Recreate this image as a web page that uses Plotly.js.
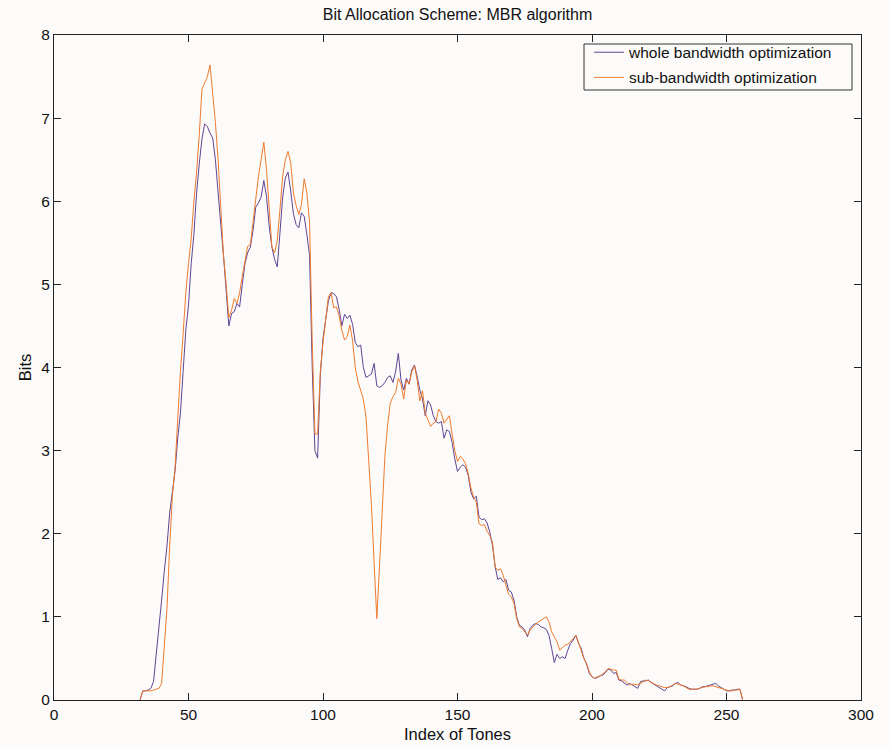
<!DOCTYPE html>
<html>
<head>
<meta charset="utf-8">
<script src="https://cdn.plot.ly/plotly-3.0.1.min.js"></script>
<style>
html,body{margin:0;padding:0;background:#fcfbfa;}
#chart{width:890px;height:748px;}
</style>
</head>
<body>
<div id="chart"></div>
<script>
const startTone = 32;
const wholeBits = [
0,0.11,0.11,0.12,0.14,0.22,0.55,0.85,1.2,1.55,
1.85,2.25,2.5,2.75,3.15,3.45,3.95,4.45,4.75,5.25,
5.6,6.1,6.45,6.75,6.93,6.9,6.82,6.76,6.5,6.15,
5.72,5.35,4.95,4.5,4.65,4.67,4.77,4.73,5.0,5.25,
5.38,5.45,5.65,5.93,5.98,6.05,6.25,6.06,5.7,5.45,
5.3,5.21,5.62,6.05,6.28,6.35,6.12,5.85,5.72,5.68,
5.86,5.82,5.6,5.35,4.0,3.0,2.91,3.9,4.35,4.6,
4.8,4.9,4.89,4.85,4.7,4.5,4.64,4.59,4.63,4.52,
4.3,4.25,4.27,4.0,3.88,3.9,3.92,4.05,3.78,3.76,
3.78,3.82,3.88,3.9,3.82,3.95,4.17,3.85,3.73,3.87,
3.8,3.97,4.03,3.89,3.73,3.62,3.42,3.6,3.55,3.42,
3.35,3.33,3.35,3.15,3.25,3.23,3.1,2.9,2.75,2.8,
2.83,2.8,2.7,2.5,2.42,2.45,2.2,2.17,2.18,2.13,
2.02,1.86,1.6,1.45,1.47,1.42,1.45,1.32,1.3,1.2,
1.0,0.9,0.88,0.84,0.76,0.86,0.9,0.92,0.91,0.88,
0.87,0.85,0.78,0.62,0.45,0.55,0.5,0.52,0.5,0.6,
0.68,0.72,0.78,0.68,0.62,0.5,0.43,0.32,0.28,0.26,
0.27,0.29,0.3,0.33,0.37,0.36,0.32,0.33,0.24,0.23,
0.2,0.18,0.2,0.18,0.16,0.14,0.22,0.23,0.23,0.24,
0.21,0.19,0.18,0.16,0.14,0.11,0.15,0.16,0.17,0.2,
0.21,0.18,0.17,0.16,0.14,0.13,0.13,0.13,0.14,0.16,
0.16,0.17,0.18,0.19,0.2,0.17,0.15,0.13,0.11,0.11,
0.12,0.12,0.13,0.13,0
];
const subBits = [
0,0.11,0.11,0.11,0.11,0.12,0.13,0.14,0.2,0.6,
1.1,1.85,2.45,2.8,3.45,3.95,4.4,4.9,5.25,5.55,
6.0,6.35,6.8,7.35,7.42,7.5,7.64,7.3,6.95,6.5,
5.95,5.35,5.0,4.6,4.69,4.83,4.77,4.9,5.1,5.3,
5.46,5.48,5.75,6.05,6.3,6.5,6.71,6.38,5.95,5.45,
5.38,5.53,5.9,6.3,6.5,6.6,6.46,6.1,5.95,5.84,
5.96,6.27,6.1,5.75,4.3,3.2,3.2,3.95,4.3,4.6,
4.85,4.9,4.72,4.73,4.62,4.45,4.33,4.37,4.51,4.32,
4.0,3.83,3.72,3.62,3.4,2.9,2.35,1.65,0.98,1.6,
2.3,2.93,3.3,3.57,3.65,3.7,3.87,3.8,3.62,3.85,
3.8,3.95,4.02,3.85,3.6,3.72,3.45,3.37,3.29,3.33,
3.35,3.5,3.45,3.33,3.38,3.42,3.2,3.0,2.87,2.93,
2.9,2.84,2.72,2.55,2.44,2.38,2.12,2.1,2.11,2.03,
1.98,1.9,1.6,1.56,1.58,1.5,1.38,1.27,1.24,1.16,
0.98,0.88,0.86,0.82,0.78,0.84,0.88,0.91,0.94,0.96,
0.98,1.0,0.94,0.82,0.76,0.7,0.6,0.63,0.66,0.67,
0.7,0.74,0.78,0.68,0.58,0.5,0.44,0.34,0.28,0.26,
0.28,0.29,0.31,0.35,0.38,0.37,0.36,0.36,0.25,0.24,
0.24,0.21,0.18,0.19,0.19,0.18,0.2,0.22,0.24,0.23,
0.21,0.19,0.18,0.17,0.16,0.15,0.15,0.16,0.18,0.2,
0.19,0.18,0.17,0.15,0.13,0.13,0.13,0.13,0.14,0.15,
0.16,0.16,0.17,0.17,0.16,0.15,0.14,0.13,0.12,0.11,
0.11,0.12,0.12,0.13,0
];
const tones = wholeBits.map((_, i) => startTone + i);
const seriesNames = ['whole bandwidth optimization', 'sub-bandwidth optimization'];
const xTicks = [0, 50, 100, 150, 200, 250, 300];
const yTicks = [0, 1, 2, 3, 4, 5, 6, 7, 8];

const font = 'Liberation Sans, Arial, Helvetica, sans-serif';
const traces = [
  {x: tones, y: wholeBits, name: seriesNames[0], legendgroup: 'a', type: 'scatter', mode: 'lines',
   line: {color: '#604493', width: 1}},
  {x: tones, y: subBits, name: seriesNames[1], legendgroup: 'b', type: 'scatter', mode: 'lines',
   line: {color: '#ee7a2c', width: 1}}
];
const axisCommon = {
  showgrid: false, zeroline: false, showline: true, mirror: 'ticks', automargin: false,
  linecolor: '#222', linewidth: 1, ticks: 'inside', ticklen: 7, tickcolor: '#222',
  tickfont: {family: font, size: 15.5, color: '#111'}
};
const layout = {
  width: 890, height: 748,
  paper_bgcolor: '#fcfbfa', plot_bgcolor: '#fcfbfa',
  margin: {l: 54, r: 29, t: 35, b: 48},
  title: {text: 'Bit Allocation Scheme: MBR algorithm', font: {family: font, size: 16, color: '#111'},
          x: 0.5, xref: 'paper', y: 0.981, yanchor: 'middle'},
  xaxis: Object.assign({}, axisCommon, {range: [0, 300], tickvals: xTicks,
    title: {text: 'Index of Tones', font: {family: font, size: 16.5, color: '#111'}, standoff: 6}}),
  yaxis: Object.assign({}, axisCommon, {range: [0, 8], tickvals: yTicks,
    title: {text: 'Bits', font: {family: font, size: 16.5, color: '#111'}, standoff: 5}}),
  showlegend: true,
  legend: {x: (589 - 54) / 807, y: 0.999, xanchor: 'left', yanchor: 'top',
    bgcolor: 'rgba(0,0,0,0)', borderwidth: 0,
    font: {family: font, size: 15.5, color: '#111'}, itemwidth: 30, tracegroupgap: 2},
  shapes: [{type: 'rect', xref: 'paper', yref: 'paper',
    x0: (584 - 54) / 807, x1: (852 - 54) / 807, y0: (700 - 90) / 665, y1: (700 - 44) / 665,
    line: {color: '#333', width: 1}, fillcolor: '#fcfbfa', layer: 'below'}],
  font: {family: font}
};
Plotly.newPlot('chart', traces, layout, {displayModeBar: false, staticPlot: true});
</script>
</body>
</html>
